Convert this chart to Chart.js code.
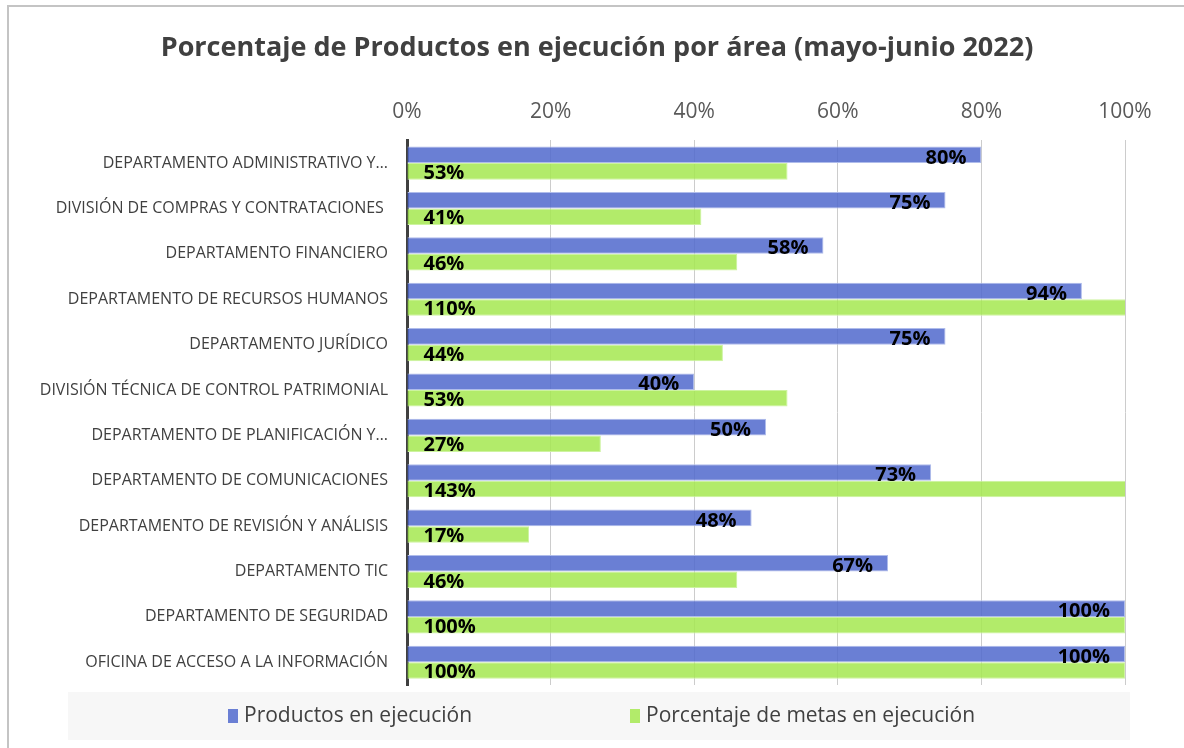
<!DOCTYPE html>
<html>
<head>
<meta charset="utf-8">
<script src="https://cdn.jsdelivr.net/npm/chart.js@4/dist/chart.umd.min.js"></script>
<style>
  body { margin: 0; background: #ffffff; }
  #wrap { width: 1184px; height: 748px; position: relative; }
</style>
</head>
<body>
<div id="wrap"><canvas id="areaChart" width="1184" height="748"></canvas></div>
<script>
var areas = [
  "DEPARTAMENTO ADMINISTRATIVO Y…",
  "DIVISIÓN DE COMPRAS Y CONTRATACIONES ",
  "DEPARTAMENTO FINANCIERO",
  "DEPARTAMENTO DE RECURSOS HUMANOS",
  "DEPARTAMENTO JURÍDICO",
  "DIVISIÓN TÉCNICA DE CONTROL PATRIMONIAL",
  "DEPARTAMENTO DE PLANIFICACIÓN Y…",
  "DEPARTAMENTO DE COMUNICACIONES",
  "DEPARTAMENTO DE REVISIÓN Y ANÁLISIS",
  "DEPARTAMENTO TIC",
  "DEPARTAMENTO DE SEGURIDAD",
  "OFICINA DE ACCESO A LA INFORMACIÓN",
];
var productosEjecucion = [80, 75, 58, 94, 75, 40, 50, 73, 48, 67, 100, 100];
var metasEjecucion = [53, 41, 46, 110, 44, 53, 27, 143, 17, 46, 100, 100];
var xTicks = [0, 20, 40, 60, 80, 100];

var fontFamily = "'Open Sans', 'Noto Sans', sans-serif";

// etiquetas de valor: serie azul al final de la barra, serie verde al inicio
var valueLabels = {
  id: "valueLabels",
  afterDatasetsDraw: function (chart) {
    var ctx = chart.ctx;
    ctx.save();
    ctx.font = "bold 20px " + fontFamily;
    ctx.fillStyle = "#000000";
    ctx.textBaseline = "middle";
    chart.data.datasets.forEach(function (ds, i) {
      var meta = chart.getDatasetMeta(i);
      meta.data.forEach(function (bar, j) {
        var txt = ds.data[j] + "%";
        if (i === 0) {
          var xEnd = Math.min(bar.x, chart.chartArea.right);
          ctx.textAlign = "right";
          ctx.fillText(txt, xEnd - 15, bar.y + 3);
        } else {
          ctx.textAlign = "left";
          ctx.fillText(txt, bar.base + 16, bar.y + 2);
        }
      });
    });
    ctx.restore();
  },
};

// leyenda con fondo gris y marco exterior
var frameAndLegend = {
  id: "frameAndLegend",
  afterDraw: function (chart) {
    var ctx = chart.ctx;
    ctx.save();
    ctx.fillStyle = "#f7f7f7";
    ctx.fillRect(68, 692, 1062, 48);
    ctx.strokeStyle = "#c4c4c4";
    ctx.lineWidth = 2;
    ctx.beginPath();
    ctx.moveTo(8, 748);
    ctx.lineTo(8, 6);
    ctx.lineTo(1184, 6);
    ctx.stroke();

    var items = [
      { x: 228, ds: chart.data.datasets[0] },
      { x: 630, ds: chart.data.datasets[1] },
    ];
    ctx.font = "21px " + fontFamily;
    ctx.textBaseline = "middle";
    ctx.textAlign = "left";
    items.forEach(function (it) {
      ctx.fillStyle = it.ds.legendColor;
      ctx.fillRect(it.x, 709, 10, 14);
      ctx.fillStyle = "#404040";
      ctx.fillText(it.ds.label, it.x + 16, 716);
    });
    ctx.restore();
  },
};

var ctx = document.getElementById("areaChart").getContext("2d");
var areaChart = new Chart(ctx, {
  type: "bar",
  data: {
    labels: areas,
    datasets: [
      {
        label: "Productos en ejecución",
        data: productosEjecucion,
        backgroundColor: "rgba(80, 105, 205, 0.85)",
        borderColor: "rgba(175, 188, 235, 1)",
        borderWidth: 1,
        legendColor: "#6a7fd4",
        barPercentage: 1,
        categoryPercentage: 0.73,
      },
      {
        label: "Porcentaje de metas en ejecución",
        data: metasEjecucion,
        backgroundColor: "rgba(165, 232, 80, 0.85)",
        borderColor: "rgba(205, 243, 160, 1)",
        borderWidth: 1,
        legendColor: "#b2eb6a",
        barPercentage: 1,
        categoryPercentage: 0.73,
      },
    ],
  },
  options: {
    indexAxis: "y",
    responsive: false,
    animation: false,
    layout: {
      padding: { left: 10, right: 0, top: 0, bottom: 63 },
    },
    scales: {
      x: {
        position: "top",
        min: 0,
        max: 100,
        afterBuildTicks: function (scale) {
          scale.ticks = xTicks.map(function (v) { return { value: v }; });
        },
        afterFit: function (scale) {
          scale.height = 68;
        },
        ticks: {
          callback: function (v) { return v + "%"; },
          color: "#595959",
          font: { family: fontFamily, size: 21 },
          padding: 16,
        },
        grid: {
          color: "#cccccc",
          lineWidth: 1,
          drawTicks: false,
        },
        border: { display: false },
      },
      y: {
        afterFit: function (scale) {
          scale.width = 397;
        },
        ticks: {
          color: "#404040",
          font: { family: fontFamily, size: 16 },
          padding: 19,
          autoSkip: false,
        },
        grid: { drawOnChartArea: false, drawTicks: false },
        border: { display: true, color: "#404040", width: 3 },
      },
      yRight: {
        type: "category",
        position: "right",
        afterFit: function (scale) {
          scale.width = 59;
        },
        ticks: { display: false },
        grid: { display: false },
        border: { display: false },
      },
    },
    plugins: {
      legend: { display: false },
      tooltip: { enabled: false },
      title: {
        display: true,
        text: "Porcentaje de Productos en ejecución por área (mayo-junio 2022)",
        color: "#404040",
        font: { family: fontFamily, size: 27, weight: "bold" },
        padding: { top: 32, bottom: 8 },
      },
    },
  },
  plugins: [valueLabels, frameAndLegend],
});
</script>
</body>
</html>
